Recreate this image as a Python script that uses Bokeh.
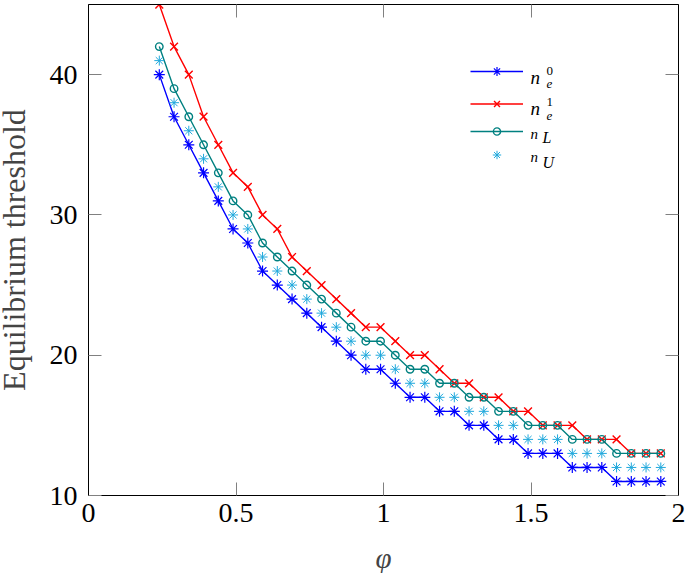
from bokeh.plotting import figure
from bokeh.models import Range1d, LinearAxis, FixedTicker, Legend, LegendItem, Label
from bokeh.core.properties import value
from bokeh.embed import file_html
from bokeh.resources import INLINE

# ---- data ----
phi = [0.24, 0.29, 0.34, 0.39, 0.44, 0.49, 0.54, 0.59, 0.64, 0.69,
       0.74, 0.79, 0.84, 0.89, 0.94, 0.99, 1.04, 1.09, 1.14, 1.19,
       1.24, 1.29, 1.34, 1.39, 1.44, 1.49, 1.54, 1.59, 1.64, 1.69,
       1.74, 1.79, 1.84, 1.89, 1.94]
n_e0 = [40, 37, 35, 33, 31, 29, 28, 26, 25, 24, 23, 22, 21, 20, 19, 19, 18, 17, 17, 16,
        16, 15, 15, 14, 14, 13, 13, 13, 12, 12, 12, 11, 11, 11, 11]
n_e1 = [45, 42, 40, 37, 35, 33, 32, 30, 29, 27, 26, 25, 24, 23, 22, 22, 21, 20, 20, 19,
        18, 18, 17, 17, 16, 16, 15, 15, 15, 14, 14, 14, 13, 13, 13]
n_L = [42, 39, 37, 35, 33, 31, 30, 28, 27, 26, 25, 24, 23, 22, 21, 21, 20, 19, 19, 18,
       18, 17, 17, 16, 16, 15, 15, 15, 14, 14, 14, 13, 13, 13, 13]
n_U = [41, 38, 36, 34, 32, 30, 29, 27, 26, 25, 24, 23, 22, 21, 20, 20, 19, 18, 18, 17,
       17, 16, 16, 15, 15, 14, 14, 14, 13, 13, 13, 12, 12, 12, 12]
x_ticks = [0, 0.5, 1, 1.5, 2]
x_tick_labels = ["0", "0.5", "1", "1.5", "2"]
y_ticks = [10, 20, 30, 40]
y_tick_labels = ["10", "20", "30", "40"]
x_title = "φ"
y_title = "Equilibrium threshold"

SERIF = "Liberation Serif"
BLUE, RED, TEAL, CYAN = "#0000ff", "#ff0000", "#008080", "#1fa8dc"
TICK = "#808080"

FL, FT, FW, FH = 88, 4, 590, 491   # frame left/top/width/height in page px
SHIFT = 10                          # extra left border hidden by a negative margin
X0, X1, Y0, Y1 = 0, 2, 10, 45

p = figure(frame_width=FW, frame_height=FH, output_backend="svg", toolbar_location=None,
           x_range=Range1d(X0, X1), y_range=Range1d(Y0, Y1),
           min_border_left=FL + SHIFT, min_border_top=FT, min_border_right=7,
           min_border_bottom=573 - FT - FH,
           background_fill_color="white", border_fill_color="white")
p.margin = (0, 0, 0, -SHIFT)
p.outline_line_color = "black"
p.outline_line_width = 1
p.xgrid.grid_line_color = None
p.ygrid.grid_line_color = None


def style_axis(ax, ticks, labels, show_labels=True):
    ax.ticker = FixedTicker(ticks=ticks)
    ax.major_label_overrides = {t: (l if show_labels else "") for t, l in zip(ticks, labels)}
    ax.major_tick_in = 13
    ax.major_tick_out = 0
    ax.major_tick_line_color = TICK
    ax.major_tick_line_width = 1
    ax.minor_tick_line_color = None
    ax.axis_line_color = "black"
    ax.axis_line_width = 1
    if show_labels:
        ax.major_label_text_font = SERIF
        ax.major_label_text_font_size = "28px"
        ax.major_label_text_color = "black"
    else:
        ax.major_label_text_font_size = "0px"
        ax.major_label_standoff = 0


xa = p.xaxis[0]
style_axis(xa, x_ticks, x_tick_labels)
xa.major_label_standoff = 8
xa.axis_label = x_title
xa.axis_label_text_font = SERIF
xa.axis_label_text_font_style = "italic"
xa.axis_label_text_font_size = "29px"
xa.axis_label_standoff = 17

ya = p.yaxis[0]
style_axis(ya, y_ticks, y_tick_labels)
ya.major_label_standoff = 11
ya.axis_label = y_title
ya.axis_label_text_font = SERIF
ya.axis_label_text_font_style = "normal"
ya.axis_label_text_font_size = "32px"
ya.axis_label_standoff = 15

top = LinearAxis()
style_axis(top, x_ticks, x_tick_labels, show_labels=False)
p.add_layout(top, "above")
right = LinearAxis()
style_axis(right, y_ticks, y_tick_labels, show_labels=False)
p.add_layout(right, "right")

# ---- series ----
b_l = p.line(phi, n_e0, line_color=BLUE, line_width=1.4)
b_m = p.scatter(phi, n_e0, marker="asterisk", size=11, line_color=BLUE, line_width=1.2)
r_l = p.line(phi, n_e1, line_color=RED, line_width=1.4)
r_m = p.scatter(phi, n_e1, marker="x", size=11, line_color=RED, line_width=1.4)
t_l = p.line(phi, n_L, line_color=TEAL, line_width=1.4)
t_m = p.scatter(phi, n_L, marker="circle", size=7.5, line_color=TEAL, fill_color=None, line_width=1.4)
c_m = p.scatter(phi, n_U, marker="asterisk", size=10, line_color=CYAN, line_width=1.0)


def dx(px):
    return X0 + (px - FL) / FW * (X1 - X0)


def dy(py):
    return Y1 - (py - FT) / FH * (Y1 - Y0)


# ---- legend: one legend per row, text drawn as labels ----
rows = [([b_l, b_m], 70.7, 22), ([r_l, r_m], 103.0, 21), ([t_l, t_m], 131.0, 18), ([c_m], 154.3, 21)]
for rends, cy, gh in rows:
    leg = Legend(items=[LegendItem(label=value(""), renderers=rends)],
                 location=(470 - FL, (FT + FH) - (cy + gh / 2)),
                 glyph_width=53, glyph_height=gh, padding=0, margin=0, spacing=0,
                 label_standoff=0, label_width=0, label_height=0, label_text_font_size="1px",
                 border_line_color=None, background_fill_alpha=0)
    p.add_layout(leg)

texts = [("n", 530, 76.7, "19px", "italic"), ("0", 546, 70.7, "13px", "normal"),
         ("e", 546, 83.3, "13px", "italic"),
         ("n", 530, 108.3, "19px", "italic"), ("1", 546, 101.0, "13px", "normal"),
         ("e", 546, 115.0, "13px", "italic"),
         ("n", 530, 133.3, "15px", "italic"), ("L", 542, 137.3, "16px", "italic"),
         ("n", 530, 156.0, "15px", "italic"), ("U", 542, 161.7, "16px", "italic")]
for t, px, py, fs, st in texts:
    p.add_layout(Label(x=dx(px), y=dy(py), text=t, text_font=SERIF, text_font_style=st,
                       text_font_size=fs, text_align="left", text_baseline="alphabetic",
                       text_color="black"))

open("out.html", "w").write(file_html(p, INLINE))
